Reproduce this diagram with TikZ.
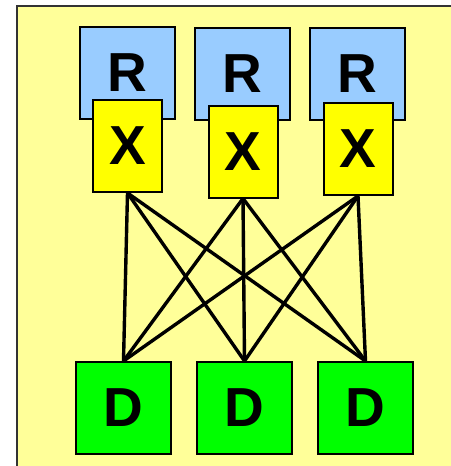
\documentclass[tikz,border=0pt]{standalone}
\usepackage{fontspec}
\setmainfont{Liberation Sans}
\definecolor{panel}{HTML}{FFFF99}
\definecolor{rblue}{HTML}{99CCFF}
\definecolor{xyellow}{HTML}{FFFF00}
\definecolor{dgreen}{HTML}{00FF00}
\begin{document}
\begin{tikzpicture}[x=1pt,y=-1pt,
  box/.style={draw=black, line width=2pt, inner sep=0pt, font=\fontsize{55}{55}\selectfont\bfseries},
  rbox/.style={box, fill=rblue, minimum width=95pt, minimum height=92pt},
  xbox/.style={box, fill=xyellow, minimum width=69pt, minimum height=92pt},
  dbox/.style={box, fill=dgreen, minimum width=95pt, minimum height=92pt},
  link/.style={line width=3.4pt, black}]
  \useasboundingbox (0,0) rectangle (450,466);
  % panel
  \draw[fill=panel, draw=black!80, line width=2pt] (17,6) rectangle (460,480);
  % upper row
  \node[rbox] (r1) at (127.5,73) {R};
  \node[rbox] (r2) at (242.5,73.5) {R};
  \node[rbox] (r3) at (357.5,73.5) {R};
  \node[xbox] (x1) at (127.5,146) {X};
  \node[xbox] (x2) at (243,151.5) {X};
  \node[xbox] (x3) at (358,149) {X};
  % lower row
  \node[dbox] (d1) at (123.5,408) {D};
  \node[dbox] (d2) at (244.5,408) {D};
  \node[dbox] (d3) at (365.5,408) {D};
  % full mesh between the two rows
  \foreach \a in {1,2,3}{
    \foreach \b in {1,2,3}{
      \draw[link] (x\a.south) -- (d\b.north);
    }
  }
  % redraw lower boxes over the line ends
  \node[dbox] at (d1) {D};
  \node[dbox] at (d2) {D};
  \node[dbox] at (d3) {D};
\end{tikzpicture}
\end{document}
